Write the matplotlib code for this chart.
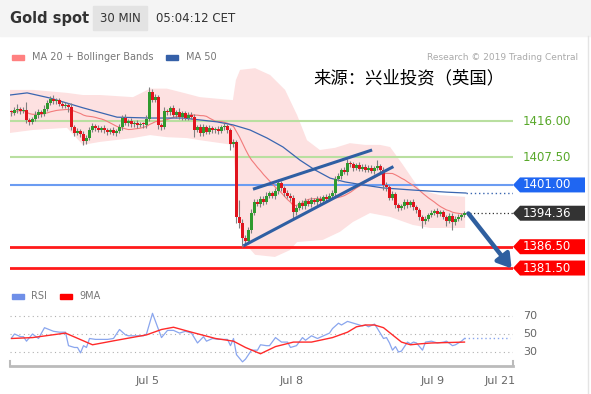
import matplotlib
matplotlib.use("Agg")
import matplotlib.pyplot as plt
from matplotlib.patches import Rectangle, Polygon
from matplotlib.lines import Line2D
import numpy as np
import pandas as pd

# ---- data (30 min candles, index 0 = first candle) ----
closes = [
    1417.8, 1418.5, 1418.9, 1418.3, 1418.6, 1416.2, 1415.8, 1416.5, 1417.5, 1418.2,
    1417.6, 1418.9, 1420.2, 1421.2, 1420.6, 1420.9, 1420.0, 1419.6, 1419.8, 1419.2,
    1414.5, 1413.2, 1413.6, 1413.0, 1411.2, 1412.0, 1414.0, 1414.8, 1414.4, 1414.0,
    1414.3, 1413.8, 1413.5, 1413.9, 1413.2, 1413.6, 1414.6, 1416.8, 1415.6, 1416.0,
    1415.2, 1415.5, 1415.0, 1415.2, 1415.0, 1416.5, 1422.8, 1421.0, 1421.6, 1415.0,
    1414.6, 1418.4, 1418.0, 1419.0, 1417.4, 1418.2, 1417.0, 1417.8, 1416.8, 1417.5,
    1417.0, 1414.0, 1414.5, 1413.2, 1414.6, 1413.5, 1414.3, 1413.8, 1414.2, 1413.6,
    1414.5, 1414.8, 1413.8, 1410.5, 1411.0, 1393.5, 1392.0, 1388.5, 1387.8, 1390.5,
    1394.5, 1397.0, 1396.5, 1397.8, 1397.0, 1398.5, 1399.0, 1398.4, 1399.6, 1401.5,
    1400.2, 1399.0, 1398.5, 1398.0, 1394.6, 1395.5, 1396.8, 1396.0, 1397.2, 1396.5,
    1397.5, 1397.0, 1397.8, 1397.3, 1398.2, 1397.8, 1398.5, 1399.0, 1402.5, 1403.0,
    1404.5, 1404.0, 1406.2, 1405.8, 1405.0, 1405.6, 1404.8, 1405.3, 1404.6, 1405.0,
    1404.2, 1404.9, 1405.4, 1404.5, 1401.0, 1400.5, 1398.0, 1398.8, 1396.2, 1395.5,
    1396.0, 1397.0, 1396.3, 1397.0, 1395.8, 1395.0, 1393.4, 1392.5, 1393.0, 1394.0,
    1394.5, 1394.8, 1394.2, 1394.6, 1393.5, 1392.6, 1393.8, 1392.2, 1393.0, 1393.4,
    1393.9, 1394.36,
]
first_open = 1418.0
upper_wick = [
    0.6, 0.8, 1.0, 0.5, 0.7, 1.8, 0.6, 0.5, 0.8, 0.6,
    0.5, 0.9, 0.7, 0.6, 1.0, 0.6, 0.5, 0.8, 0.7, 0.5,
    1.0, 0.6, 0.8, 0.5, 0.6, 0.7, 0.6, 0.8, 0.5, 0.6,
    0.5, 0.7, 0.6, 0.5, 0.8, 0.6, 0.7, 0.6, 0.9, 0.5,
    0.6, 0.5, 0.7, 0.5, 0.6, 0.8, 1.2, 0.6, 0.7, 0.5,
    0.6, 0.8, 0.5, 0.6, 0.7, 0.5, 0.8, 0.6, 0.5, 0.6,
    0.7, 0.6, 0.5, 0.8, 0.6, 0.5, 0.7, 0.6, 0.5, 0.6,
    0.5, 0.7, 0.6, 0.5, 0.8, 0.6, 4.0, 1.0, 0.8, 0.6,
    0.8, 0.6, 0.7, 0.5, 0.6, 0.8, 0.6, 0.5, 0.7, 0.8,
    0.5, 0.6, 0.7, 0.5, 0.6, 0.8, 0.5, 0.6, 0.7, 0.5,
    0.6, 0.5, 0.7, 0.6, 0.5, 0.6, 0.5, 0.7, 0.6, 0.8,
    0.5, 0.6, 0.8, 0.5, 0.6, 0.5, 0.7, 0.6, 0.5, 0.6,
    0.7, 0.5, 1.4, 0.6, 0.8, 0.6, 0.5, 0.7, 0.5, 0.6,
    0.5, 0.7, 0.6, 0.5, 0.6, 0.5, 0.6, 0.5, 0.6, 0.5,
    0.6, 0.5, 0.7, 0.5, 0.6, 0.5, 0.6, 0.5, 0.6, 0.7,
    0.5, 0.6,
]
lower_wick = [
    0.6, 0.5, 0.7, 0.6, 0.5, 0.6, 0.8, 0.5, 0.6, 0.7,
    0.6, 0.5, 0.6, 0.5, 0.7, 0.6, 0.5, 0.6, 0.5, 1.2,
    0.6, 0.8, 0.5, 0.7, 0.8, 0.6, 0.5, 0.6, 0.7, 0.5,
    0.6, 0.5, 0.7, 0.6, 0.5, 0.6, 0.5, 0.6, 0.5, 0.7,
    0.6, 0.5, 0.6, 0.5, 0.7, 0.6, 0.5, 0.6, 0.5, 0.8,
    0.6, 0.5, 0.7, 0.6, 0.5, 0.6, 0.5, 0.7, 0.6, 0.5,
    0.6, 1.8, 0.5, 0.7, 0.6, 0.5, 0.6, 0.7, 0.5, 0.6,
    0.5, 0.6, 0.7, 1.4, 0.6, 1.5, 1.0, 2.0, 0.8, 0.6,
    0.7, 0.6, 0.5, 0.6, 0.7, 0.5, 0.6, 0.5, 0.6, 0.7,
    0.6, 0.5, 0.6, 0.7, 1.8, 0.6, 0.5, 0.7, 0.6, 0.5,
    0.6, 0.5, 0.6, 0.7, 0.5, 0.6, 0.5, 0.6, 0.7, 0.5,
    0.6, 0.5, 0.6, 0.5, 0.7, 0.6, 0.5, 0.6, 0.5, 0.6,
    0.5, 0.6, 0.5, 0.6, 1.2, 1.0, 0.6, 0.5, 0.7, 0.6,
    0.5, 0.6, 0.7, 0.5, 0.6, 0.7, 0.6, 1.5, 0.6, 0.5,
    0.6, 0.5, 0.7, 0.6, 0.5, 1.2, 0.6, 1.8, 0.6, 0.5,
    0.6, 0.5,
]

# Bollinger band edges as drawn on the chart
band_up_idx = [-0.5, 7.2, 18.5, 23.8, 29.5, 40.5, 46.2, 51.8, 58.5, 62.8, 73.8, 74.8,
               76.2, 81.2, 86.2, 91.2, 95.2, 98.5, 102.8, 107.8, 112.8, 117.8, 122.8,
               126.2, 130.5, 136.2, 142.8, 151.2]
band_up_val = [1423.3, 1423.3, 1422.6, 1422.1, 1422.1, 1421.6, 1423.6, 1423.6, 1422.4,
               1421.6, 1420.9, 1425.6, 1428.0, 1428.4, 1426.8, 1423.3, 1417.4, 1411.5,
               1409.2, 1409.7, 1410.8, 1410.4, 1410.4, 1409.9, 1405.7, 1399.8, 1398.6,
               1398.2]
band_lo_idx = [-0.5, 7.2, 18.5, 23.8, 29.5, 40.5, 46.2, 51.8, 58.5, 62.8, 73.8, 75.2,
               76.8, 81.2, 87.8, 92.8, 95.2, 103.8, 109.5, 113.8, 119.5, 126.2, 133.8,
               139.5, 151.2]
band_lo_val = [1413.2, 1413.9, 1414.4, 1410.4, 1411.1, 1412.0, 1412.7, 1412.2, 1412.0,
               1411.5, 1410.4, 1397.5, 1388.1, 1384.6, 1384.1, 1385.7, 1387.6, 1388.1,
               1390.0, 1392.3, 1394.4, 1393.5, 1391.6, 1390.9, 1390.9]

ma50_idx = [-0.5, 5.2, 12.8, 23.8, 35.2, 46.2, 57.2, 68.5, 73.8, 79.5, 85.2,
            90.5, 96.2, 101.2, 106.2, 111.2, 117.2, 123.8, 133.8, 145.2, 151.5]
ma50_val = [1422.1, 1422.6, 1421.4, 1419.1, 1416.9, 1416.7, 1416.7, 1415.8, 1415.1,
            1413.9, 1412.0, 1409.9, 1406.8, 1404.5, 1402.6, 1401.7, 1401.0, 1400.3,
            1399.8, 1399.3, 1399.1]

rsi_idx = [0, 1, 3, 4, 5, 7, 9, 11, 14, 16, 18, 19, 21, 22, 23, 24, 25, 26, 28, 32,
           34, 36, 38, 39, 44, 45, 47, 48, 49, 50, 52, 54, 56, 58, 60, 62, 64, 65, 67, 69,
           72, 73, 74, 75, 77, 78, 80, 82, 83, 85, 86, 88, 90, 92, 93, 95, 97, 98, 100, 102,
           104, 106, 107, 109, 110, 112, 113, 115, 117, 118, 119, 121, 122, 124, 125, 126, 127, 128, 129, 130,
           132, 133, 134, 135, 137, 138, 140, 142, 144, 145, 147, 148, 150, 151]
rsi_val = [45.5, 50, 47, 47, 42, 50, 45, 57, 53, 52, 52, 37, 35, 35, 29, 37, 35, 45, 44, 44,
           45, 55, 49, 48, 48, 50, 73, 64, 55, 46, 54, 54, 51, 53, 51, 40, 47, 42, 45, 44,
           44, 37, 45, 27, 19, 22, 32, 32, 38, 37, 37, 46, 41, 41, 35, 37, 46, 43, 48, 45,
           48, 51, 56, 62, 60, 64, 63, 61, 59, 60, 58, 61, 56, 45, 46, 40, 32, 36, 30, 31,
           41, 39, 41, 40, 32, 41, 42, 40, 41, 42, 37, 38, 42, 45]
rsi_ma_idx = [0, 7, 18, 27, 35, 45, 50, 54, 60, 68, 74, 78, 83, 88, 94, 100, 107, 112,
              115, 118, 121, 124, 130, 133, 136, 140, 151]
rsi_ma_val = [45, 46, 51, 38, 43, 49, 55, 57.5, 52, 45, 42, 35, 28, 36, 41, 41, 46, 52,
              58, 60, 60, 57, 41, 38, 39, 40, 41]

levels = [1416.00, 1407.50, 1401.00, 1394.36, 1386.50, 1381.50]
x_ticks = [45.5, 93.5, 140.5, 163]
x_labels = ["Jul 5", "Jul 8", "Jul 9", "Jul 21"]
upper_trend = ([80.5, 120.2], [1400.0, 1409.2])
lower_trend = ([77.3, 127.3], [1386.7, 1405.3])
arrow_from = (152.3, 1394.3)
arrow_to = (166.7, 1381.4)

# ---- figure laid out in pixels ----
W, H = 591, 394
fig = plt.figure(figsize=(W / 100, H / 100), dpi=100)
plt.rcParams['font.family'] = ['DejaVu Sans']


def rect(x0, y0, x1, y1):
    return [x0 / W, 1 - y1 / H, (x1 - x0) / W, (y1 - y0) / H]


def fx(x):
    return x / W


def fy(y):
    return 1 - y / H


# header band
fig.patches.append(Rectangle((0, fy(36)), 1, 36 / H, transform=fig.transFigure,
                             color="#f4f4f4", zorder=0))
fig.patches.append(Rectangle((fx(93), fy(30)), 54 / W, 24 / H, transform=fig.transFigure,
                             color="#e3e3e3", zorder=1))
fig.text(fx(10), fy(18), "Gold spot", fontsize=10.5, fontweight="bold", color="#333333",
         va="center")
fig.text(fx(120), fy(18), "30 MIN", fontsize=8.5, color="#333333", va="center", ha="center")
fig.text(fx(156), fy(18), "05:04:12 CET", fontsize=8.5, color="#333333", va="center")
fig.add_artist(Line2D([fx(588), fx(588)], [fy(36), 0], transform=fig.transFigure,
                      color="#e4e4e4", lw=1))

# legends
fig.patches.append(Rectangle((fx(12), fy(60)), 12 / W, 5 / H, transform=fig.transFigure,
                             color="#ff8080"))
fig.text(fx(32), fy(57), "MA 20 + Bollinger Bands", fontsize=7, color="#777777", va="center")
fig.patches.append(Rectangle((fx(166), fy(60)), 12 / W, 5 / H, transform=fig.transFigure,
                             color="#3560a8"))
fig.text(fx(186), fy(57), "MA 50", fontsize=7, color="#777777", va="center")
fig.text(fx(578), fy(57), "Research © 2019 Trading Central", fontsize=6.5, color="#aaaaaa",
         va="center", ha="right")
fig.text(fx(313), fy(78), "来源：兴业投资（英国）", fontsize=12.5, color="black", va="center",
         family=["Noto Sans CJK SC", "DejaVu Sans"])

fig.patches.append(Rectangle((fx(12), fy(299)), 12 / W, 5 / H, transform=fig.transFigure,
                             color="#6f8fe8"))
fig.text(fx(31), fy(296), "RSI", fontsize=7, color="#777777", va="center")
fig.patches.append(Rectangle((fx(60), fy(299)), 12 / W, 5 / H, transform=fig.transFigure,
                             color="#ff0000"))
fig.text(fx(79), fy(296), "9MA", fontsize=7, color="#777777", va="center")

# ---- price panel ----
ax = fig.add_axes(rect(10, 66, 513, 282))
x_left = -0.5
x_right = 167.17
ax.set_xlim(x_left, x_right)
ax.set_ylim(1378.22, 1428.91)
ax.axis("off")

c = np.array(closes)
o = np.concatenate([[first_open], c[:-1]])
hi = np.maximum(o, c) + np.array(upper_wick)
lo = np.minimum(o, c) - np.array(lower_wick)
idx = np.arange(len(c))

ma20 = pd.Series(c).rolling(20, min_periods=1).mean()

# band polygon: upper edge left->right, lower edge right->left
band_x = band_up_idx + band_lo_idx[::-1]
band_y = band_up_val + band_lo_val[::-1]
ax.fill(band_x, band_y, color="#fde1e1", lw=0, zorder=1)

level_style = {
    1416.00: ("#b9dfa0", 1.5),
    1407.50: ("#b9dfa0", 1.5),
    1401.00: ("#6b9cf2", 1.5),
    1386.50: ("#ff1a1a", 2.0),
    1381.50: ("#ff1a1a", 2.0),
}
for lv, (col, lw) in level_style.items():
    ax.axhline(lv, color=col, lw=lw, zorder=2)

ax.plot(idx, ma20, color="#f27b7b", lw=0.8, zorder=3)
ax.plot(ma50_idx, ma50_val, color="#3a66b0", lw=0.9, zorder=3)
ax.plot([ma50_idx[-1], x_right], [ma50_val[-1]] * 2, color="#3a66b0", lw=1, ls=(0, (1, 2)),
        zorder=3)
ax.plot([idx[-1] + 0.5, x_right], [c[-1]] * 2, color="#333333", lw=0.9, ls=(0, (1, 2)),
        zorder=3)

up = c >= o
ax.vlines(idx, lo, hi, color="#808080", lw=0.8, zorder=4)
body = np.where(np.abs(c - o) < 0.25, 0.25, c - o)
ax.bar(idx, body, bottom=o, width=0.72, color=np.where(up, "#2f9a2f", "#e0141e"),
       lw=0, zorder=5)

ax.plot(*upper_trend, color="#2f5fa3", lw=2.2, solid_capstyle="butt", zorder=6)
ax.plot(*lower_trend, color="#2f5fa3", lw=2.2, solid_capstyle="butt", zorder=6)
ax.annotate("", xy=arrow_to, xytext=arrow_from,
            arrowprops=dict(arrowstyle="-|>,head_length=0.8,head_width=0.5",
                            color="#2f5f9f", lw=3.2, shrinkA=0, shrinkB=0),
            zorder=7, annotation_clip=False)

# price labels on the right
fig.canvas.draw()
to_px = ax.transData.transform


def label_box(price, text, face):
    _, yp = to_px((0, price))
    poly = [(513, yp), (520, yp - 7.5), (585, yp - 7.5), (585, yp + 7.5), (520, yp + 7.5)]
    fig.add_artist(Polygon(poly, closed=True, transform=None, facecolor=face, edgecolor="none"))
    fig.text(523 / W, yp / H, text, fontsize=8.5, color="white", va="center")


for lv in levels:
    txt = f"{lv:.2f}"
    if lv in (1416.00, 1407.50):
        _, yp = to_px((0, lv))
        fig.text(523 / W, yp / H, txt, fontsize=8.5, color="#58a82a", va="center")
    elif lv == 1401.00:
        label_box(lv, txt, "#1f66f2")
    elif lv == 1394.36:
        label_box(lv, txt, "#333333")
    else:
        label_box(lv, txt, "#ff0000")

# ---- RSI panel ----
ax2 = fig.add_axes(rect(10, 300, 513, 366))
ax2.set_xlim(x_left, x_right)
ax2.set_ylim(14.4, 87.8)
for sp in ("top", "left", "right"):
    ax2.spines[sp].set_visible(False)
ax2.spines["bottom"].set_color("#bbbbbb")
ax2.spines["bottom"].set_linewidth(2)
ax2.set_yticks([])
ax2.set_xticks(x_ticks)
ax2.set_xticklabels(x_labels, fontsize=8, color="#666666")
ax2.tick_params(axis="x", length=0, pad=7)
for g in (70, 50, 30):
    ax2.axhline(g, color="#b0b0b0", lw=0.8, ls=(0, (1, 3)))
    ax2.text(1.02, g, str(g), transform=ax2.get_yaxis_transform(), fontsize=8,
             color="#666666", va="center")
ax2.plot(rsi_idx, rsi_val, color="#8aa6ee", lw=0.9, zorder=3)
ax2.plot([rsi_idx[-1], x_right - 1], [rsi_val[-1]] * 2, color="#8aa6ee", lw=1,
         ls=(0, (1, 2)), zorder=3)
ax2.plot(rsi_ma_idx, rsi_ma_val, color="#ff2a2a", lw=1.0, zorder=4)
ax2.plot([x_left, x_left], [14.4, 20], color="#bbbbbb", lw=1.5, clip_on=False)
ax2.plot([x_right, x_right], [14.4, 20], color="#bbbbbb", lw=1.5, clip_on=False)

fig.savefig("out.png", dpi=100)
